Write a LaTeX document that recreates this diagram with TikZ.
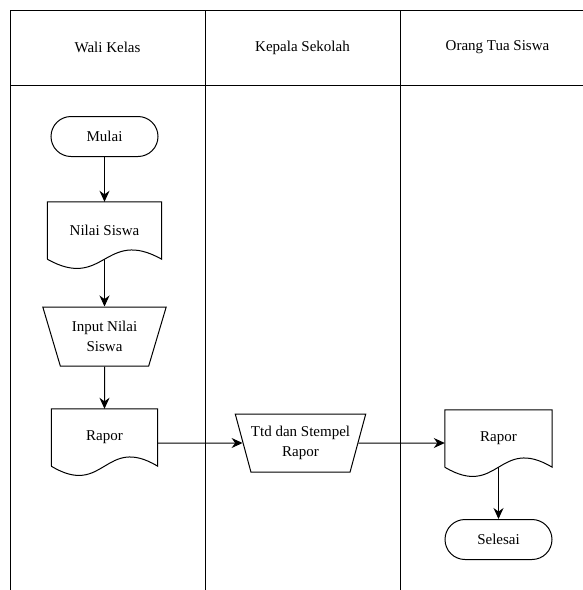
\documentclass[tikz,border=0pt]{standalone}
\usepackage{fontspec}
\setmainfont{Liberation Serif}
\usetikzlibrary{calc}
\usetikzlibrary{shapes.geometric, arrows.meta, positioning}

\begin{document}
\begin{tikzpicture}[
    x=1pt, y=-1pt,
    font=\rmfamily\fontsize{15}{20}\selectfont,
    lanehead/.style={
      rectangle,
      draw,
      line width=1pt,
      outer sep=0pt,
      inner sep=0pt,
      minimum width=195pt,
      minimum height=75pt
    },
    lanebody/.style={
      lanehead,
      minimum height=520pt
    },
    terminal/.style={
      rectangle,
      rounded corners=20pt,
      draw,
      line width=1pt,
      inner sep=0pt,
      minimum width=107pt,
      minimum height=40pt
    },
    docshape/.style={
      rectangle,
      inner sep=0pt,
      minimum height=57pt,
      append after command={
        \pgfextra{
          \draw[line width=1pt] (\tikzlastnode.south west) -- (\tikzlastnode.north west)
            -- (\tikzlastnode.north east) -- (\tikzlastnode.south east)
            .. controls ($(\tikzlastnode.south)+(0,-32)$) and ($(\tikzlastnode.south)+(0,32)$)
            .. (\tikzlastnode.south west);
        }
      }
    },
    manual/.style={
      trapezium,
      trapezium stretches=true,
      shape border rotate=180,
      draw,
      line width=1pt,
      inner sep=0pt,
      align=center
    },
    arrow/.style={
      -{Stealth[length=11pt, width=10pt]},
      line width=1pt
    }
  ]

  \useasboundingbox (0,0) rectangle (583,590);
  \clip (0,0) rectangle (583,590);

  % Kolom
  \node[lanehead] (wali) at (107.5,47.5) {Wali Kelas};
  \node[lanehead, right=0pt of wali] (kepsek) {Kepala Sekolah};
  \node[lanehead, right=0pt of kepsek] (ortu) {Orang Tua Siswa};
  \node[lanebody, below=0pt of wali] (walibody) {};
  \node[lanebody, below=0pt of kepsek] (kepsekbody) {};
  \node[lanebody, below=0pt of ortu] (ortubody) {};

  % Simbol
  \node[terminal] (mulai) at (104.5,136.5) {Mulai};
  \node[docshape, minimum width=114pt] (nilai) at (104.5,230.5) {Nilai Siswa};
  \node[manual, minimum width=124pt, minimum height=59pt,
        trapezium left angle=67, trapezium right angle=67] (input) at (104.5,336.5) {Input Nilai\\Siswa};
  \node[docshape, minimum width=106pt] (rapor) at (104.5,437.5) {Rapor};
  \node[manual, minimum width=125pt, minimum height=58pt,
        trapezium left angle=65, trapezium right angle=65] (ttd) at (300.5,443) {Ttd dan Stempel\\Rapor};
  \node[docshape, minimum width=107pt] (raporortu) at (498.5,438.5) {Rapor};
  \node[terminal] (selesai) at (498.5,539.5) {Selesai};

  % Panah
  \draw[arrow] (mulai) -- (nilai);
  \draw[arrow] (nilai) -- (input);
  \draw[arrow] (input) -- (rapor);
  \draw[arrow] (rapor.east |- ttd) -- (ttd);
  \draw[arrow] (ttd) -- (ttd -| raporortu.west);
  \draw[arrow] (raporortu) -- (selesai);

\end{tikzpicture}
\end{document}
